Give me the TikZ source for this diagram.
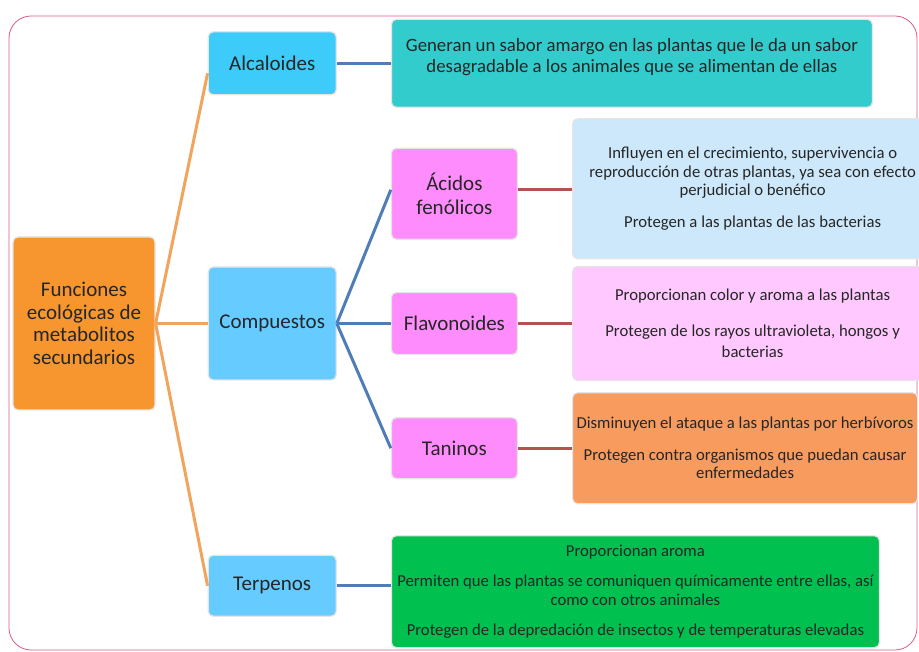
\documentclass[tikz,border=0pt]{standalone}
\usepackage{fontspec}
\setmainfont{Carlito}
\usetikzlibrary{positioning}
\definecolor{ink}{HTML}{262626}
\definecolor{rootorange}{HTML}{F7962F}
\definecolor{alcblue}{HTML}{3DCBF9}
\definecolor{catblue}{HTML}{66CCFF}
\definecolor{tealbox}{HTML}{33CCCC}
\definecolor{grppink}{HTML}{FF8CFC}
\definecolor{acidbox}{HTML}{CCE8FA}
\definecolor{flavbox}{HTML}{FFC9FF}
\definecolor{tanbox}{HTML}{F79B5F}
\definecolor{terpbox}{HTML}{00C050}
\definecolor{trunkline}{HTML}{F2A45C}
\definecolor{branchline}{HTML}{4F7DB8}
\definecolor{leafline}{HTML}{B5524F}
\definecolor{framepink}{HTML}{D95A8C}

\begin{document}
\begin{tikzpicture}[x=1pt, y=-1pt, node distance=54pt,
  box/.style={draw=black!10, line width=1.2pt, rounded corners=5pt, align=center, inner sep=2pt, text=ink},
  root/.style={box, fill=rootorange, minimum width=142pt, minimum height=173pt, font=\fontsize{21}{22.5}\selectfont},
  cat/.style={box, fill=catblue, minimum width=128pt, font=\fontsize{21}{24}\selectfont},
  grp/.style={box, fill=grppink, minimum width=126pt, font=\fontsize{21}{24}\selectfont},
  note/.style={box, font=\fontsize{16.7}{18.5}\selectfont},
  lbl/.style={align=center, text=ink, font=\fontsize{18.8}{21}\selectfont},
  trunk/.style={draw=trunkline, line width=3pt},
  branch/.style={draw=branchline, line width=3pt},
  leaf/.style={draw=leafline, line width=3pt}]
\useasboundingbox (0,0) rectangle (919,652);
\draw[framepink, line width=0.8pt, rounded corners=22pt] (9,16) rectangle (917,650);

% categories
\node[root] (fun) at (84,323.5) {Funciones\\ecológicas de\\metabolitos\\secundarios};
\node[cat, right=52pt of fun, minimum height=113pt] (comp) {Compuestos};
\node[cat, above=171pt of comp, fill=alcblue, minimum height=63pt] (alc) {Alcaloides};
\node[cat, below=174pt of comp, minimum height=61pt] (terp) {Terpenos};
\node[grp, right=of comp, minimum height=62pt] (flav) {Flavonoides};
\node[grp, above=52pt of flav, minimum height=91pt] (acid) {Ácidos\\fenólicos};
\node[grp, below=62pt of flav, minimum height=61pt] (tan) {Taninos};

% descriptions
\node[note, fill=tealbox, right=of alc, minimum width=481pt, minimum height=88pt,
  label={[lbl, anchor=north, yshift=-16pt]north:Generan un sabor amargo en las plantas que le da un sabor\\desagradable a los animales que se alimentan de ellas}] (alcdesc) {};
\node[note, fill=acidbox, right=of acid, yshift=5pt, minimum width=360pt, minimum height=140pt] (aciddesc)
  {Influyen en el crecimiento, supervivencia o\\reproducción de otras plantas, ya sea con efecto\\perjudicial o benéfico\\[13pt]Protegen a las plantas de las bacterias};
\node[note, fill=flavbox, right=of flav, minimum width=360pt, minimum height=114pt] (flavdesc)
  {Proporcionan color y aroma a las plantas\\[17pt]Protegen de los rayos ultravioleta, hongos y\\[3pt]bacterias};
\node[note, fill=tanbox, right=of tan, minimum width=345pt, minimum height=111pt] (tandesc)
  {Disminuyen el ataque a las plantas por herbívoros\\[13pt]Protegen contra organismos que puedan causar\\enfermedades};
\node[note, fill=terpbox, right=of terp, yshift=-6pt, minimum width=488pt, minimum height=112pt] (terpdesc)
  {Proporcionan aroma\\[12pt]Permiten que las plantas se comuniquen químicamente entre ellas, así\\como con otros animales\\[12pt]Protegen de la depredación de insectos y de temperaturas elevadas};

% connectors
\draw[trunk] (fun.east) -- ([yshift=-10pt]alc.west);
\draw[trunk] (fun.east) -- (comp.west);
\draw[trunk] (fun.east) -- (terp.west);
\draw[branch] (comp.east) -- ([yshift=4pt]acid.west);
\draw[branch] (comp.east) -- (flav.west);
\draw[branch] (comp.east) -- (tan.west);
\draw[branch] (alc.east) -- (alcdesc.west);
\draw[branch] (terp.east) -- (terp.east -| terpdesc.west);
\draw[leaf] ([yshift=4pt]acid.east) -- ([yshift=4pt]acid.east -| aciddesc.west);
\draw[leaf] (flav.east) -- (flav.east -| flavdesc.west);
\draw[leaf] (tan.east) -- (tan.east -| tandesc.west);
\end{tikzpicture}
\end{document}
